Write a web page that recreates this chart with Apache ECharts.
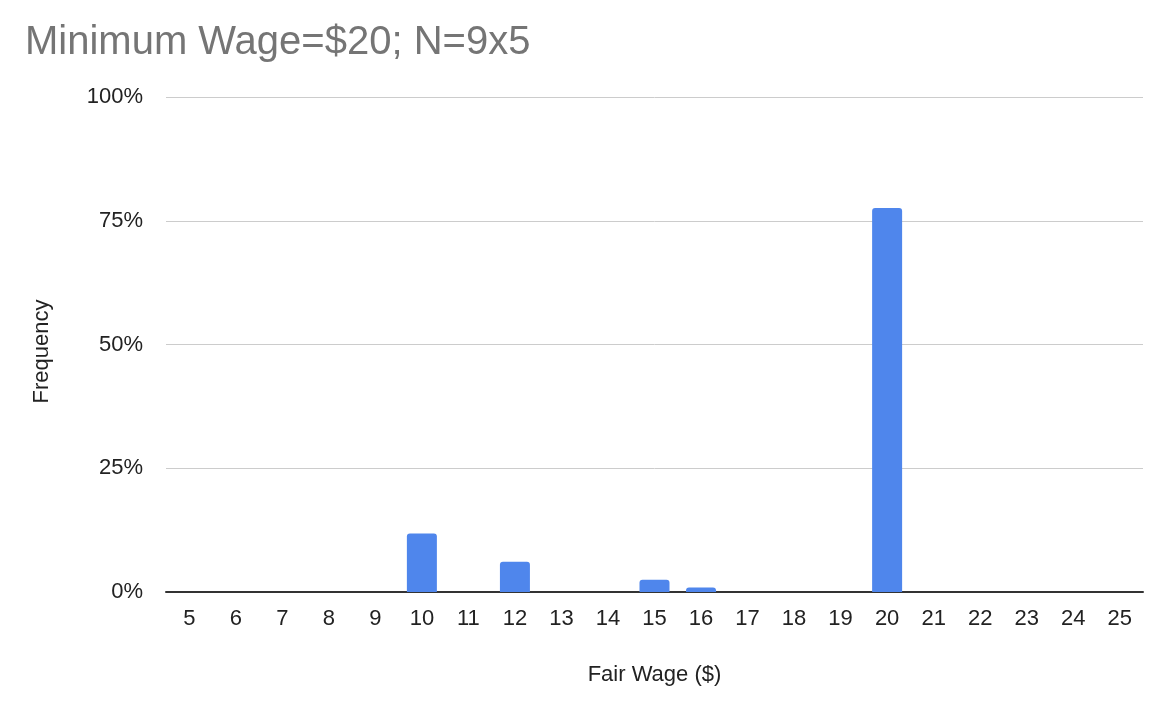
<!DOCTYPE html>
<html><head><meta charset="utf-8">
<script src="https://cdn.jsdelivr.net/npm/echarts@6/dist/echarts.min.js"></script>
<style>html,body{margin:0;padding:0;background:#fff}#c{width:1166px;height:710px}</style>
</head><body><div id="c"></div>
<script>
const categories = ['5','6','7','8','9','10','11','12','13','14','15','16','17','18','19','20','21','22','23','24','25'];
const frequency = [0,0,0,0,0,0.118,0,0.061,0,0,0.025,0.009,0,0,0,0.776,0,0,0,0,0];
const yTicks = [0,0.25,0.5,0.75,1];
const font = '"Liberation Sans", Arial, sans-serif';
const chart = echarts.init(document.getElementById('c'), null, {renderer:'canvas'});
chart.setOption({
  animation:false,
  title:{text:'Minimum Wage=$20; N=9x5',left:20,top:18,textStyle:{fontFamily:font,fontSize:40,fontWeight:'normal',color:'#757575'}},
  grid:{left:166,right:23,top:97,bottom:118},
  xAxis:{type:'category',data:categories,name:'Fair Wage ($)',nameLocation:'middle',nameGap:72,
    nameTextStyle:{fontFamily:font,fontSize:22,color:'#222'},
    axisLine:{lineStyle:{color:'#333',width:2}},axisTick:{show:false},
    axisLabel:{fontFamily:font,fontSize:22,color:'#222',margin:16}},
  yAxis:{type:'value',min:yTicks[0],max:yTicks[yTicks.length-1],interval:0.25,name:'Frequency',nameLocation:'middle',nameGap:113,
    nameTextStyle:{fontFamily:font,fontSize:22,color:'#222',padding:[0,14,0,0]},
    axisLine:{show:false},axisTick:{show:false},
    axisLabel:{fontFamily:font,fontSize:22,color:'#222',margin:23,formatter:v=>Math.round(v*100)+'%'},
    splitLine:{lineStyle:{color:'#cccccc',width:1}}},
  series:[{type:'bar',data:frequency,barWidth:30,itemStyle:{color:'#4f86ec',borderRadius:[3,3,0,0]}}]
});
</script></body></html>
